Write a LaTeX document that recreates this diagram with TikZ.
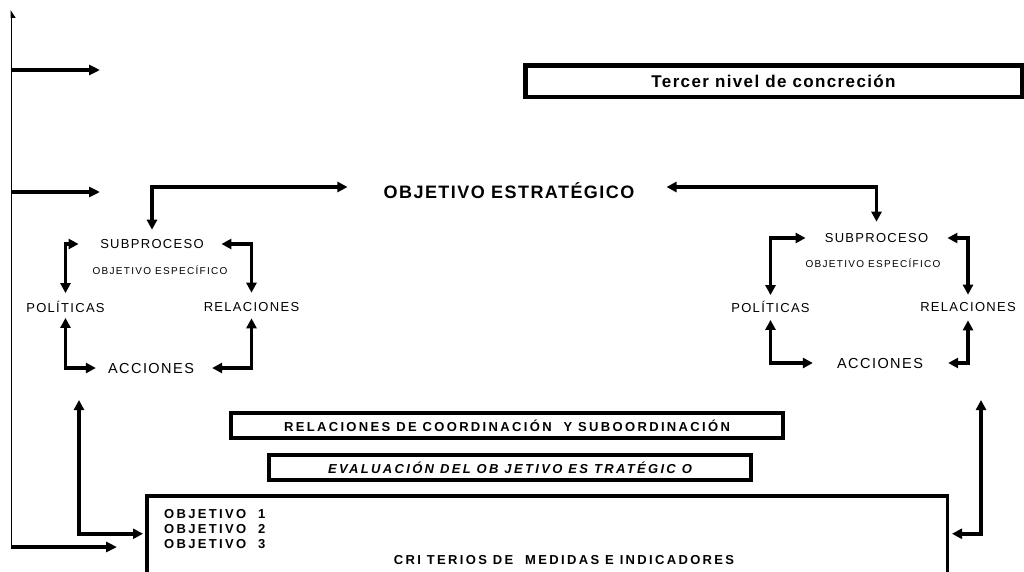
\documentclass[tikz,border=0pt]{standalone}
\usepackage{fontspec}
\setmainfont{Liberation Sans}
\newfontfamily\spreadA[LetterSpace=10]{Liberation Sans}
\newfontfamily\spreadB[LetterSpace=8]{Liberation Sans}
\newfontfamily\spreadC[LetterSpace=18]{Liberation Sans}
\newfontfamily\spreadD[LetterSpace=13]{Liberation Sans}
\usetikzlibrary{arrows.meta}

\begin{document}
\begin{tikzpicture}[x=1pt,y=-1pt,
  txt/.style={inner sep=0pt, font=\spreadA\fontsize{13}{15}\selectfont},
  tiny/.style={inner sep=0pt, font=\spreadD\fontsize{10}{12}\selectfont},
  head/.style={inner sep=0pt, font=\spreadB\bfseries\fontsize{18}{20}\selectfont},
  boxtxt/.style={inner sep=0pt, font=\spreadC\bfseries\fontsize{13}{15}\selectfont},
  frame/.style={draw, line width=4pt, inner sep=0pt},
  arr/.style={line width=3.5pt, -{Triangle[length=11pt,width=10pt]}},
  dbl/.style={line width=3.5pt, {Triangle[length=10pt,width=10pt]}-{Triangle[length=10pt,width=10pt]}}]
\useasboundingbox (0,0) rectangle (1024,571);

\node[frame, line width=4.5pt, minimum width=496.5pt, minimum height=31.5pt,
  font=\spreadB\bfseries\fontsize{17}{19}\selectfont] (tercer) at (773.5,81) {Tercer nivel de concreción};
\node[head] (objEst) at (509,191) {OBJETIVO ESTRATÉGICO};

\node[txt] (subL) at (152,244) {SUBPROCESO};
\node[tiny] (espL) at (160,270) {OBJETIVO ESPECÍFICO};
\node[txt] (polL) at (65.5,307) {POLÍTICAS};
\node[txt] (relL) at (251.5,307) {RELACIONES};
\node[txt, font=\spreadA\fontsize{14.5}{16}\selectfont] (accL) at (151,368) {ACCIONES};

\node[txt] (subR) at (876.5,238) {SUBPROCESO};
\node[tiny] (espR) at (873,263) {OBJETIVO ESPECÍFICO};
\node[txt] (polR) at (770.5,307) {POLÍTICAS};
\node[txt] (relR) at (968,307) {RELACIONES};
\node[txt, font=\spreadA\fontsize{14.5}{16}\selectfont] (accR) at (880,363) {ACCIONES};

\node[frame, boxtxt, minimum width=552pt, minimum height=25pt] (coord) at (507,425.5)
  {RELACIONES DE COORDINACIÓN\ \ Y SUBOORDINACIÓN\hspace{22pt}};
\node[frame, boxtxt, font=\spreadC\bfseries\itshape\fontsize{13}{15}\selectfont,
  minimum width=482pt, minimum height=25pt] (evalObj) at (510,467.5)
  {EVALUACIÓN DEL OB JETIVO ES TRATÉGIC O\hspace{23pt}};
\node[frame, line width=3.5pt, minimum width=800.5pt, minimum height=81pt] (objBox) at (547,536.25) {};
\node[boxtxt, anchor=north west, align=left] (objList) at (164,509)
  {OBJETIVO\ \ 1\\OBJETIVO\ \ 2\\OBJETIVO\ \ 3};
\node[boxtxt] (crit) at (564,560) {CRI TERIOS DE\ \ MEDIDAS E INDICADORES};

\coordinate (railTop) at (11,10);
\coordinate (railFoot) at (11,547);
\coordinate (tipA) at (100,70);
\coordinate (tipB) at (100,192);
\coordinate (tipC) at (117,547);
\coordinate (footL) at (79,400);
\coordinate (footR) at (981,400);

\draw[line width=1pt, -{Triangle[harpoon,swap,length=7pt,width=9pt]}] (railFoot) -- (railTop);
\draw[arr] (railTop |- tipA) -- (tipA);
\draw[arr] (railTop |- tipB) -- (tipB);
\draw[arr] (railFoot) -- (tipC);

\draw[dbl, shorten <=9.5pt, shorten >=36pt] (subL) |- ([yshift=4pt]objEst.west);
\draw[dbl, shorten <=32pt, shorten >=11.5pt] ([yshift=4pt]objEst.east) -| (subR);

\draw[dbl, shorten <=8pt, shorten >=21.5pt] (polL) |- (subL);
\draw[dbl, shorten <=9.5pt, shorten >=17.5pt] (relL) |- (subL);
\draw[dbl, shorten <=5pt, shorten >=12pt] (polL) |- (accL);
\draw[dbl, shorten <=6.5pt, shorten >=18pt] (relL) |- (accL);

\draw[dbl, shorten <=6pt, shorten >=19pt] (polR) |- (subR);
\draw[dbl, shorten <=7.5pt, shorten >=19pt] (relR) |- (subR);
\draw[dbl, shorten <=7pt, shorten >=24pt] (polR) |- (accR);
\draw[dbl, shorten <=8.5pt, shorten >=25pt] (relR) |- (accR);

\draw[dbl, shorten >=2pt] (footL) |- ([yshift=2.5pt]objBox.west);
\draw[dbl, shorten >=3pt] (footR) |- ([yshift=2.5pt]objBox.east);
\end{tikzpicture}
\end{document}
